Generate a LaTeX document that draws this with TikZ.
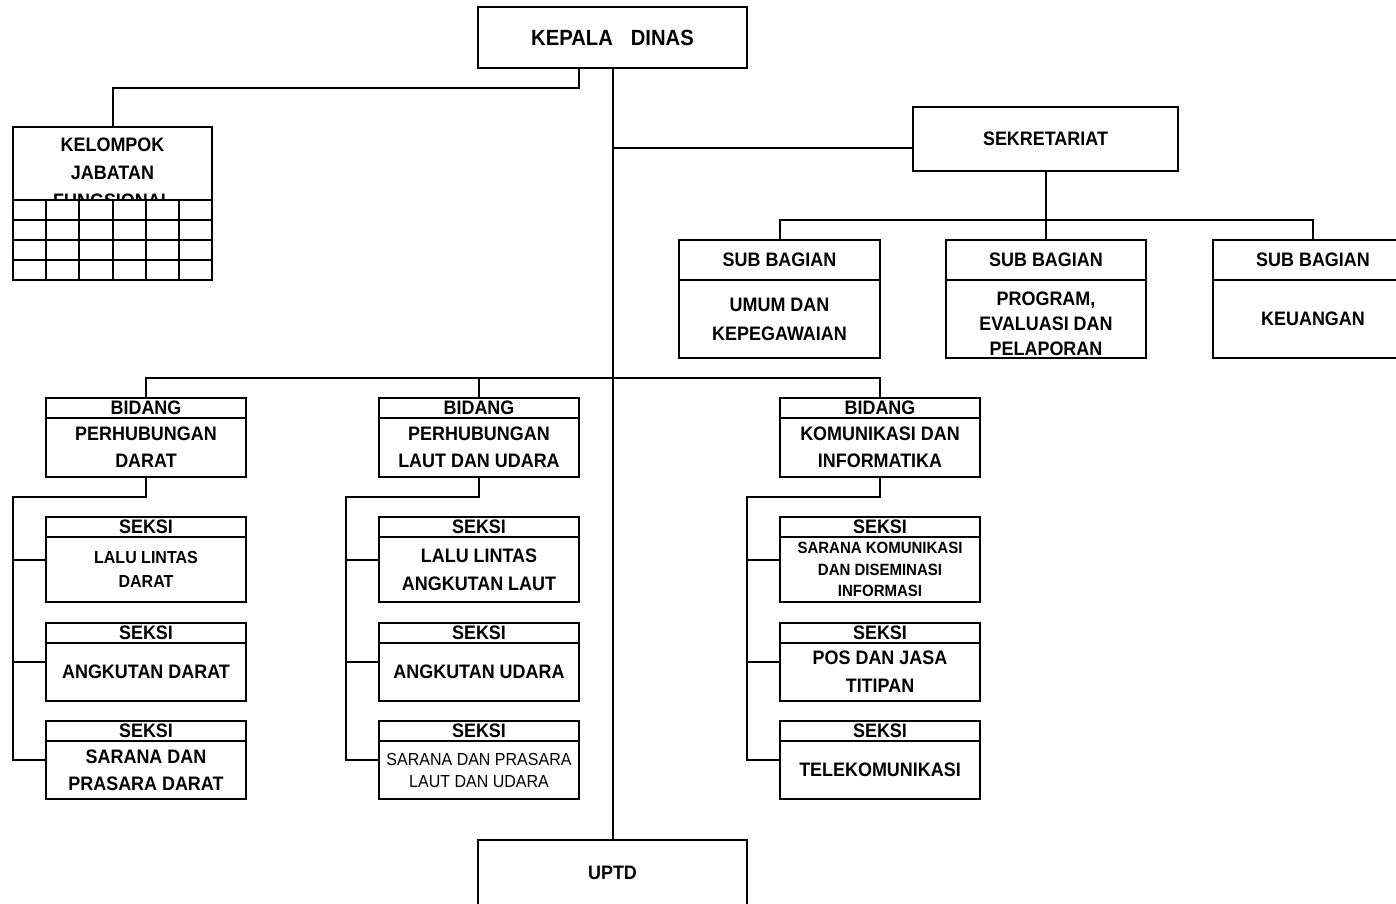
\documentclass[tikz,border=0pt]{standalone}
\usepackage{fontspec}
\setmainfont{Liberation Sans}[FakeStretch=0.92]
\usetikzlibrary{calc, positioning}

\begin{document}
\begin{tikzpicture}[x=1pt, y=-1pt, line width=2pt,
        kotak/.style={draw, rectangle, inner sep=0pt, outer sep=0pt, align=center,
            font=\fontsize{19.5}{27}\selectfont\bfseries},
        judul/.style={kotak, minimum width=200, minimum height=20},
        isi/.style={kotak, minimum width=200}]
        \clip (0,0) rectangle (1396,903);
        \node[kotak, minimum width=269, minimum height=61, font=\fontsize{22}{24}\selectfont\bfseries] (kadis) at (612.5,37.5) {KEPALA\hspace{18pt}DINAS};
        \node[kotak, minimum width=265, minimum height=64] (sekre) at (1045.5,139) {SEKRETARIAT};
        \node[kotak, minimum width=269, minimum height=66, anchor=north] (uptd) at (612.5,840) {UPTD};

        \node[kotak, minimum width=199, minimum height=153, anchor=north west] (kjf) at (13,127) {};
        \node[below=7pt of kjf.north, align=center, font=\fontsize{19.5}{28}\selectfont\bfseries] (kjfteks) {KELOMPOK\\JABATAN\\FUNGSIONAL};
        \foreach \i in {0,...,5}
            \foreach \j in {0,...,3}
                \draw[fill=white] (13+\i*33.17,200+\j*20) rectangle ++(33.17,20);

        \node[judul, minimum width=201, minimum height=40, anchor=north west] (sbh1) at (679,240) {SUB BAGIAN};
        \node[isi, minimum width=201, minimum height=78, below=0pt of sbh1, font=\fontsize{19.5}{29}\selectfont\bfseries] (sb1) {UMUM DAN\\KEPEGAWAIAN};
        \node[judul, minimum height=40, anchor=north west] (sbh2) at (946,240) {SUB BAGIAN};
        \node[isi, minimum height=78, below=0pt of sbh2, font=\fontsize{19.5}{25}\selectfont\bfseries] (sb2) {\rule{0pt}{24pt}PROGRAM,\\EVALUASI DAN\\PELAPORAN};
        \node[judul, minimum height=40, anchor=north west] (sbh3) at (1213,240) {SUB BAGIAN};
        \node[isi, minimum height=78, below=0pt of sbh3] (sb3) {KEUANGAN};

        \node[judul, anchor=north west] (bh1) at (46,398) {BIDANG};
        \node[isi, minimum height=59, below=0pt of bh1] (bd1) {PERHUBUNGAN\\DARAT};
        \node[judul, anchor=north west] (bh2) at (379,398) {BIDANG};
        \node[isi, minimum height=59, below=0pt of bh2] (bd2) {PERHUBUNGAN\\LAUT DAN UDARA};
        \node[judul, anchor=north west] (bh3) at (780,398) {BIDANG};
        \node[isi, minimum height=59, below=0pt of bh3] (bd3) {KOMUNIKASI DAN\\INFORMATIKA};

        \node[judul, below=40pt of bd1] (h11) {SEKSI};
        \node[isi, minimum height=65, below=0pt of h11, font=\fontsize{17.4}{24}\selectfont\bfseries] (s11) {LALU LINTAS\\DARAT};
        \node[judul, below=21pt of s11] (h12) {SEKSI};
        \node[isi, minimum height=58, below=0pt of h12] (s12) {ANGKUTAN DARAT};
        \node[judul, below=20pt of s12] (h13) {SEKSI};
        \node[isi, minimum height=58, below=0pt of h13] (s13) {SARANA DAN\\PRASARA DARAT};

        \node[judul, below=40pt of bd2] (h21) {SEKSI};
        \node[isi, minimum height=65, below=0pt of h21, font=\fontsize{19.5}{28}\selectfont\bfseries] (s21) {LALU LINTAS\\ANGKUTAN LAUT};
        \node[judul, below=21pt of s21] (h22) {SEKSI};
        \node[isi, minimum height=58, below=0pt of h22] (s22) {ANGKUTAN UDARA};
        \node[judul, below=20pt of s22] (h23) {SEKSI};
        \node[isi, minimum height=58, below=0pt of h23, font=\fontsize{17.4}{22}\selectfont] (s23) {SARANA DAN PRASARA\\LAUT DAN UDARA};

        \node[judul, below=40pt of bd3] (h31) {SEKSI};
        \node[isi, minimum height=65, below=0pt of h31, font=\fontsize{16.3}{21.5}\selectfont\bfseries] (s31) {SARANA KOMUNIKASI\\DAN DISEMINASI\\INFORMASI};
        \node[judul, below=21pt of s31] (h32) {SEKSI};
        \node[isi, minimum height=58, below=0pt of h32, font=\fontsize{19.5}{28}\selectfont\bfseries] (s32) {POS DAN JASA\\TITIPAN};
        \node[judul, below=20pt of s32] (h33) {SEKSI};
        \node[isi, minimum height=58, below=0pt of h33] (s33) {TELEKOMUNIKASI};

        \draw (kadis.south) -- (uptd.north);
        \coordinate (t1) at (579,88);
        \draw (kadis.south -| t1) -- (t1) -| (kjf.north);
        \coordinate (t2) at (612.5,148);
        \draw (t2) -- (t2 -| sekre.west);
        \coordinate (t3) at (1045.5,220);
        \draw (sekre.south) -- (t3);
        \draw (sbh1.north) |- (t3) -| (sbh3.north);
        \draw (sbh2.north) -- (sbh2.north |- t3);
        \coordinate (t4) at (612.5,378);
        \draw (bh1.north) |- (t4) -| (bh3.north);
        \draw (bh2.north) -- (bh2.north |- t4);

        \coordinate (c1) at (13,497);
        \coordinate (c2) at (346,497);
        \coordinate (c3) at (747,497);
        \foreach \c in {1,2,3} {
            \foreach \k in {1,2,3}
                \coordinate (m\c\k) at ($(h\c\k.north west)!.5!(s\c\k.south west)$);
            \draw (bd\c.south) |- (c\c) -- (m\c3 -| c\c) -- (m\c3);
            \draw (m\c1 -| c\c) -- (m\c1);
            \draw (m\c2 -| c\c) -- (m\c2);
        }
\end{tikzpicture}
\end{document}
